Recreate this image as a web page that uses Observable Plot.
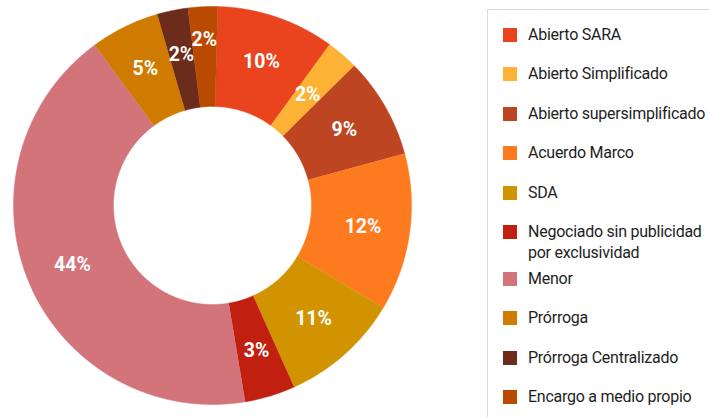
<!DOCTYPE html>
<html>
<head>
<meta charset="utf-8">
<script src="https://cdn.jsdelivr.net/npm/d3@7"></script>
<script src="https://cdn.jsdelivr.net/npm/@observablehq/plot@0.6"></script>
<style>
  html, body { margin: 0; padding: 0; background: #fff; overflow: hidden; }
  body { width: 709px; height: 417px; position: relative; font-family: Roboto, "Noto Sans", sans-serif; }
  #chart { position: absolute; left: 0; top: 0; }
  #legend {
    position: absolute; left: 487px; top: 9px; width: 260px; height: 440px;
    border: 1px solid #dcdcdc; box-sizing: border-box; padding: 14.5px 0 0 15px;
    display: flex; flex-direction: column; gap: 19px;
  }
  .item { display: flex; align-items: flex-start; font-size: 16px; letter-spacing: -0.25px; line-height: 20.5px; color: #1e1e1e; white-space: nowrap; }
  .sw { width: 14px; height: 14px; flex: none; margin-top: 3px; margin-right: 11px; }
  .item.multi { margin-bottom: -13.5px; }
</style>
</head>
<body>
<div id="chart"></div>
<div id="legend"></div>
<script>
// ---- data ----
const categories = [
  "Abierto SARA",
  "Abierto Simplificado",
  "Abierto supersimplificado",
  "Acuerdo Marco",
  "SDA",
  "Negociado sin publicidad por exclusividad",
  "Menor",
  "Prórroga",
  "Prórroga Centralizado",
  "Encargo a medio propio"
];
const shares = [9.6, 2.6, 8.2, 12.8, 9.7, 4.1, 42.6, 5.6, 2.5, 2.4];
const pctLabels = ["10%", "2%", "9%", "12%", "11%", "3%", "44%", "5%", "2%", "2%"];
const colors = ["#E9441E", "#FDB236", "#BD4521", "#FD7A1F", "#D29300", "#C11F0F", "#D3737A", "#CE7B00", "#6C2B1B", "#B94A00"];
const legendLines = [["Abierto SARA"], ["Abierto Simplificado"], ["Abierto supersimplificado"], ["Acuerdo Marco"], ["SDA"],
  ["Negociado sin publicidad", "por exclusividad"], ["Menor"], ["Prórroga"], ["Prórroga Centralizado"], ["Encargo a medio propio"]];

// ---- geometry / style ----
const W = 430, H = 417, cx = 212, cy = 205, R = 199;
const rOuter = 1, rInner = 99 / 199;
const startOffset = 1.5 * Math.PI / 180;
// label radius (px); a few small slices have their labels nudged like the original
const labelRadiusPx = i => ({1: 146, 8: 154, 9: 166})[i] ?? 152;

const pie = d3.pie().sort(null).value(d => d.share)
  .startAngle(startOffset).endAngle(startOffset + 2 * Math.PI);
const table = categories.map((c, i) => ({category: c, share: shares[i], label: pctLabels[i]}));
const arcs = pie(table);

const poly = [];
arcs.forEach(a => {
  const n = Math.max(8, Math.ceil((a.endAngle - a.startAngle) / 0.005));
  for (let k = 0; k <= n; k++) {
    const t = a.startAngle + (a.endAngle - a.startAngle) * k / n;
    poly.push({category: a.data.category, x: rOuter * Math.sin(t), y: rOuter * Math.cos(t)});
  }
  for (let k = n; k >= 0; k--) {
    const t = a.startAngle + (a.endAngle - a.startAngle) * k / n;
    poly.push({category: a.data.category, x: rInner * Math.sin(t), y: rInner * Math.cos(t)});
  }
});
const labelPts = arcs.map((a, i) => {
  const m = (a.startAngle + a.endAngle) / 2;
  const r = labelRadiusPx(i) / R;
  return {label: a.data.label, x: r * Math.sin(m), y: r * Math.cos(m)};
});

const chart = Plot.plot({
  width: W, height: H,
  margin: 0,
  x: {domain: [-cx / R, (W - cx) / R], axis: null},
  y: {domain: [-(H - cy) / R, cy / R], axis: null},
  color: {domain: categories, range: colors},
  style: {background: "transparent"},
  marks: [
    Plot.line(poly, {x: "x", y: "y", z: "category", fill: "category", stroke: "category", strokeWidth: 0.5, curve: "linear"}),
    Plot.text(labelPts, {x: "x", y: "y", text: "label", fill: "white", fontSize: 19.5, fontWeight: "bold", fontFamily: "Roboto"})
  ]
});
document.getElementById("chart").appendChild(chart);

// ---- legend ----
const legend = document.getElementById("legend");
categories.forEach((c, i) => {
  const item = document.createElement("div");
  item.className = "item" + (legendLines[i].length > 1 ? " multi" : "");
  const sw = document.createElement("span");
  sw.className = "sw";
  sw.style.background = colors[i];
  const txt = document.createElement("span");
  txt.innerHTML = legendLines[i].join("<br>");
  item.appendChild(sw);
  item.appendChild(txt);
  legend.appendChild(item);
});
</script>
</body>
</html>
